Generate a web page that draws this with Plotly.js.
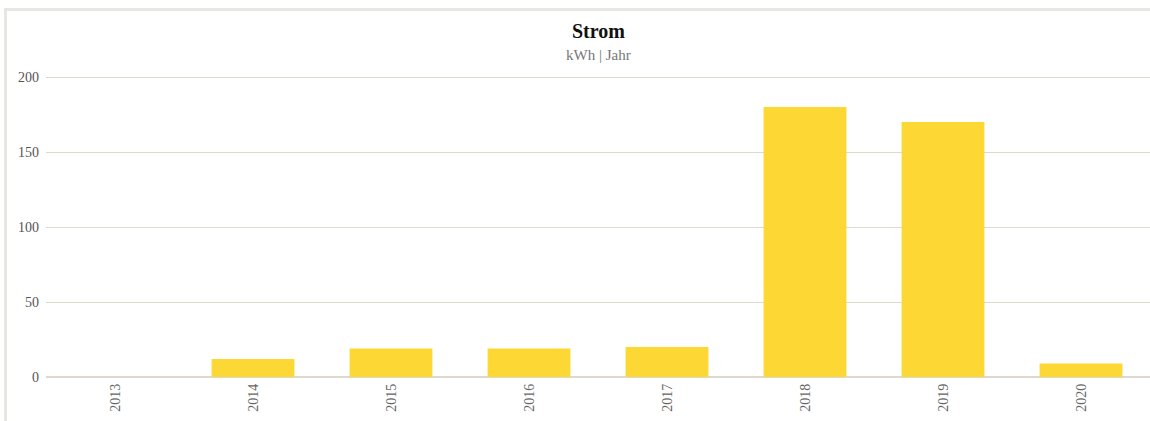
<!DOCTYPE html>
<html>
<head>
<meta charset="utf-8">
<script src="https://cdn.plot.ly/plotly-3.0.1.min.js"></script>
<style>
  html, body { margin: 0; padding: 0; background: #fff; overflow: hidden; }
  #frame { position: absolute; left: 4px; top: 8px; width: 1300px; height: 600px;
           border-left: 3px solid #e6e6e2; border-top: 3px solid #e6e6e2; }
  #chart { position: absolute; left: 0; top: 0; width: 1150px; height: 421px; }
</style>
</head>
<body>
<div id="frame"></div>
<div id="chart"></div>
<script>
const years = ['2013', '2014', '2015', '2016', '2017', '2018', '2019', '2020'];
const values = [0, 12, 19, 19, 20, 180, 170, 9];
const yTicks = [0, 50, 100, 150, 200];
const chartTitle = 'Strom';
const chartSubtitle = 'kWh | Jahr';

const fontFam = '"Liberation Serif", "Times New Roman", serif';

const trace = {
  type: 'bar',
  x: years,
  y: values,
  marker: { color: '#fdd835' },
  hoverinfo: 'x+y'
};

const layout = {
  width: 1150,
  height: 421,
  margin: { l: 46, r: 0, t: 76, b: 44, pad: 0 },
  paper_bgcolor: 'rgba(0,0,0,0)',
  plot_bgcolor: 'rgba(0,0,0,0)',
  bargap: 0.4,
  showlegend: false,
  font: { family: fontFam, size: 14, color: '#555' },
  xaxis: {
    type: 'category',
    tickangle: -90,
    showgrid: false,
    showline: false,
    zeroline: false,
    ticks: '',
    ticklabelstandoff: 3,
    tickfont: { family: fontFam, size: 14, color: '#666' }
  },
  yaxis: {
    range: [0, 200.7],
    tickvals: yTicks,
    showgrid: true,
    gridcolor: '#ddd9cc',
    gridwidth: 1,
    zeroline: true,
    zerolinecolor: '#ddd9cc',
    zerolinewidth: 2,
    showline: false,
    ticks: '',
    ticklabelstandoff: 6,
    tickfont: { family: fontFam, size: 14, color: '#555' }
  },
  annotations: [
    {
      text: '<b>' + chartTitle + '</b>',
      xref: 'paper', yref: 'paper',
      x: 0.5, y: 1 + (76 - 31) / 301,
      xanchor: 'center', yanchor: 'middle',
      showarrow: false,
      font: { family: fontFam, size: 20, color: '#111' }
    },
    {
      text: chartSubtitle,
      xref: 'paper', yref: 'paper',
      x: 0.5, y: 1 + (76 - 55) / 301,
      xanchor: 'center', yanchor: 'middle',
      showarrow: false,
      font: { family: fontFam, size: 15, color: '#777' }
    }
  ]
};

Plotly.newPlot('chart', [trace], layout, { displayModeBar: false, staticPlot: true });
</script>
</body>
</html>
